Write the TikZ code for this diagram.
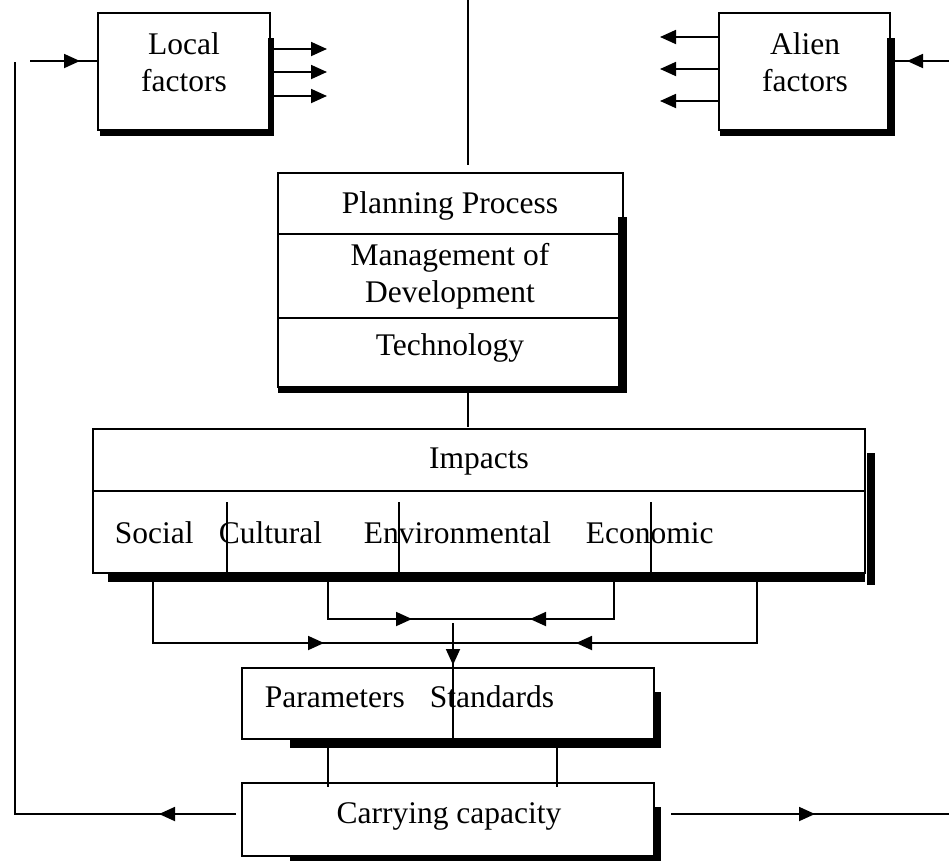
\documentclass[tikz,border=0pt]{standalone}
\usepackage{fontspec}
\setmainfont{Liberation Serif}
\usetikzlibrary{arrows.meta,decorations.markings,calc}
\begin{document}
\begin{tikzpicture}[x=1pt,y=-1pt,line width=1.8pt,
  box/.style={draw,line width=1.8pt,inner sep=0pt,outer sep=0pt},
  lbl/.style={font=\fontsize{31.5}{37}\selectfont,inner sep=0pt,align=center},
  tipend/.style={-{Triangle[length=16pt,width=14pt]}},
  midarrow/.style={postaction=decorate,decoration={markings,mark=at position #1 with {\arrow{Triangle[length=16pt,width=14pt]}}}}]
\useasboundingbox (0,0) rectangle (949,860);

% boxes
\node[box,minimum width=172pt,minimum height=117pt] (lf) at (184,71.5) {};
\node[box,minimum width=171pt,minimum height=117pt] (af) at (804.5,71.5) {};
\node[box,minimum width=345pt,minimum height=214pt] (pl) at (450.5,280) {};
\node[box,minimum width=772pt,minimum height=144pt] (imp) at (479,501) {};
\node[box,minimum width=412pt,minimum height=71pt] (pa) at (448,703.5) {};
\node[box,minimum width=412pt,minimum height=73pt] (cc) at (448,819.5) {};

% shadows
\fill ($(lf.north east)+(-2,25)$) rectangle ($(lf.south east)+(4,6)$);
\fill ($(lf.south west)+(2,-1)$) rectangle ($(lf.south east)+(4,6)$);
\fill ($(af.north east)+(-3,25)$) rectangle ($(af.south east)+(5,6)$);
\fill ($(af.south west)+(1,-1)$) rectangle ($(af.south east)+(5,6)$);
\fill ($(pl.north east)+(-5,44)$) rectangle ($(pl.south east)+(4,6)$);
\fill ($(pl.south west)+(0,0)$) rectangle ($(pl.south east)+(4,6)$);
\fill ($(imp.north east)+(2,24)$) rectangle ($(imp.south east)+(10,12)$);
\fill ($(imp.south west)+(15,0)$) rectangle ($(imp.south east)+(0,9)$);
\fill ($(pa.north east)+(-1,24)$) rectangle ($(pa.south east)+(7,9)$);
\fill ($(pa.south west)+(48,1)$) rectangle ($(pa.south east)+(7,9)$);
\fill ($(cc.north east)+(-1,24)$) rectangle ($(cc.south east)+(7,9)$);
\fill ($(cc.south west)+(48,1)$) rectangle ($(cc.south east)+(7,9)$);

% dividers
\draw ($(pl.north west)+(0,61)$) -- ($(pl.north east)+(0,61)$);
\draw ($(pl.north west)+(0,145)$) -- ($(pl.north east)+(0,145)$);
\draw ($(imp.north west)+(0,62)$) -- ($(imp.north east)+(0,62)$);
\draw ($(imp.south west)+(134,0)$) -- ($(imp.north west)+(134,73)$);
\draw ($(imp.south west)+(306,0)$) -- ($(imp.north west)+(306,73)$);
\draw ($(imp.south west)+(558,0)$) -- ($(imp.north west)+(558,73)$);

% texts
\node[lbl] (lft) at (184,62) {Local\\factors};
\node[lbl] (aft) at (805,62) {Alien\\factors};
\node[lbl,anchor=base] (t1) at (450,213) {Planning Process};
\node[lbl] (t2) at (450,276) {Management of\\Development};
\node[lbl,anchor=base] (t3) at (450,355) {Technology};
\node[lbl,anchor=base] (t4) at (479,468) {Impacts};
\node[lbl,anchor=base west] (s1) at (114,543) {Social};
\node[lbl,anchor=base west] (s2) at (218,543) {Cultural};
\node[lbl,anchor=base west] (s3) at (363,543) {Environmental};
\node[lbl,anchor=base west] (s4) at (585,543) {Economic};
\node[lbl,anchor=base west] (p1) at (264,707) {Parameters};
\node[lbl,anchor=base west] (p2) at (429,707) {Standards};
\node[lbl,anchor=base] (c1) at (449,823) {Carrying capacity};

% top connectors
\coordinate (top) at (468,0);
\draw (top) -- ($(pl.north)+(17.5,-8)$);
\draw ($(pl.south)+(17.5,6)$) -- ($(imp.north)+(-11,-2)$);

% local / alien outputs
\draw[tipend] ($(lf.east)+(4,-22.5)$) -- ++(53,0);
\draw[tipend] ($(lf.east)+(4,0.5)$) -- ++(53,0);
\draw[tipend] ($(lf.east)+(4,24.5)$) -- ++(53,0);
\draw[tipend] ($(af.west)+(0,-34.5)$) -- ++(-59,0);
\draw[tipend] ($(af.west)+(0,-2.5)$) -- ++(-59,0);
\draw[tipend] ($(af.west)+(0,29.5)$) -- ++(-59,0);

% inputs
\draw[midarrow=50pt] ($(lf.west)+(-68,-10.5)$) -- ($(lf.west)+(0,-10.5)$);
\draw[midarrow=42pt] ($(af.east)+(59,-10.5)$) -- ($(af.east)+(5,-10.5)$);

% impacts to parameters
\coordinate (jo) at ($(pa.north)+(5,-25)$);
\coordinate (ji) at ($(pa.north)+(5,-49)$);
\draw[midarrow=232pt] ($(imp.south west)+(60,9)$) |- (jo);
\draw[midarrow=242pt] ($(imp.south east)+(-108,9)$) |- (jo);
\draw[midarrow=121pt] ($(imp.south west)+(235,9)$) |- (ji);
\draw[midarrow=121pt] ($(imp.south east)+(-251,9)$) |- (ji);
\draw[midarrow=42pt] ($(ji)+(0,4)$) -- (pa.south -| jo);

% parameters to carrying capacity
\draw ($(pa.south west)+(86,9)$) -- ($(cc.north west)+(86,4)$);
\draw ($(pa.south west)+(315,9)$) -- ($(cc.north west)+(315,4)$);

% feedback
\draw[midarrow=77pt] ($(cc.west)+(-6,-5.5)$) -| ($(lf.west)+(-83,-9.5)$);
\coordinate (rend) at (949,814);
\draw[midarrow=144pt] ($(cc.east)+(17,-5.5)$) -- (rend);
\end{tikzpicture}
\end{document}
